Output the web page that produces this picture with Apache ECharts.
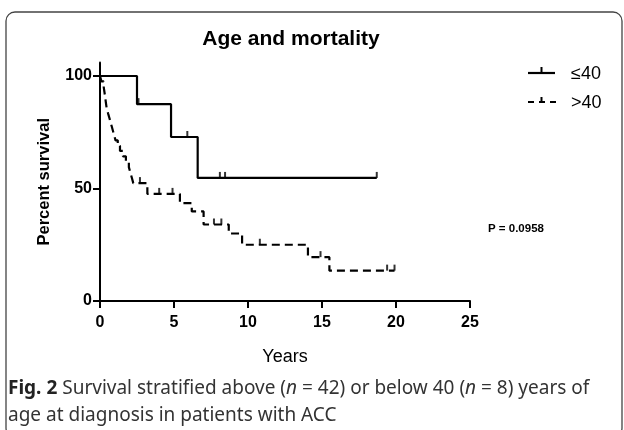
<!DOCTYPE html>
<html>
<head>
<meta charset="utf-8">
<script src="https://cdn.jsdelivr.net/npm/echarts@6/dist/echarts.min.js"></script>
<style>
html,body{margin:0;padding:0;background:#fff;}
#c{width:624px;height:430px;}
</style>
</head>
<body>
<div id="c"></div>
<script>
// ≤40 group (n = 8)
const youngTimes = [0, 2.5, 4.8, 6.6, 18.7];
const youngSurv = [100, 87.5, 72.9, 54.7, 54.7];
const youngCensorTimes = [2.6, 5.9, 8.1, 8.45, 18.7];
const youngCensorSurv = [87.5, 72.9, 54.7, 54.7, 54.7];

// >40 group (n = 42)
const oldTimes = [0, 0.1, 0.25, 0.3, 0.35, 0.4, 0.45, 0.55, 0.65, 0.75, 0.85, 0.95, 1.05, 1.2, 1.35, 1.55, 1.75, 1.95, 2.05, 2.15, 2.25, 3.2, 5.4, 6.2, 7.0, 8.7, 9.6, 14.05, 15.5, 19.9];
const oldSurv = [100, 97.6, 95.2, 92.9, 90.5, 88.1, 85.7, 83.3, 81.0, 78.6, 76.2, 73.8, 71.4, 69.0, 66.7, 64.3, 61.9, 59.5, 57.1, 54.8, 52.4, 47.6, 43.5, 39.8, 34.0, 30.0, 25.0, 19.5, 13.5, 13.5];
const oldCensorTimes = [2.7, 4.0, 4.9, 7.7, 8.2, 10.8, 14.9, 19.4, 19.9];
const oldCensorSurv = [52.4, 47.6, 47.6, 34.0, 34.0, 25.0, 19.5, 13.5, 13.5];

const xTicks = [0, 5, 10, 15, 20, 25];
const yTicks = [0, 50, 100];

const chartTitle = 'Age and mortality';
const xName = 'Years';
const yName = 'Percent survival';
const legendNames = ['\u226440', '>40'];
const pText = 'P = 0.0958';

const zip = (a, b) => a.map((v, i) => [v, b[i]]);

const chart = echarts.init(document.getElementById('c'), null, {renderer: 'canvas'});
const axisFont = {fontFamily: 'Liberation Sans, Arial, sans-serif', fontWeight: 'bold', fontSize: 16, color: '#000'};

chart.setOption({
  animation: false,
  backgroundColor: '#fff',
  title: {
    text: chartTitle, left: 286, top: 24, textAlign: 'center',
    textStyle: {fontFamily: 'Liberation Sans, Arial, sans-serif', fontWeight: 'bold', fontSize: 21, color: '#000'}
  },
  grid: {left: 100, width: 370, top: 62.5, height: 238.5},
  xAxis: {
    type: 'value', min: 0, max: 25, interval: 5,
    name: xName, nameLocation: 'middle', nameGap: 47,
    nameTextStyle: {fontFamily: 'Liberation Sans, Arial, sans-serif', fontSize: 18, color: '#000'},
    axisLine: {show: true, onZero: false, lineStyle: {color: '#000', width: 2}},
    axisTick: {show: true, length: 7, inside: false, lineStyle: {color: '#000', width: 2}, customValues: xTicks},
    axisLabel: Object.assign({margin: 14, customValues: xTicks}, axisFont),
    splitLine: {show: false}
  },
  yAxis: {
    type: 'value', min: 0, max: 106,
    name: yName, nameLocation: 'middle', nameGap: 47, nameRotate: 90,
    nameTextStyle: {fontFamily: 'Liberation Sans, Arial, sans-serif', fontWeight: 'bold', fontSize: 16.5, color: '#000'},
    axisLine: {show: true, onZero: false, lineStyle: {color: '#000', width: 2}},
    axisTick: {show: true, length: 7, lineStyle: {color: '#000', width: 2}, customValues: yTicks},
    axisLabel: Object.assign({margin: 8, customValues: yTicks}, axisFont),
    splitLine: {show: false}
  },
  series: [
    {
      name: legendNames[1], type: 'line', step: 'end', symbol: 'none',
      data: zip(oldTimes, oldSurv),
      lineStyle: {color: '#000', width: 2.2, type: [8, 5]}, z: 3
    },
    {
      name: legendNames[0], type: 'line', step: 'end', symbol: 'none',
      data: zip(youngTimes, youngSurv),
      lineStyle: {color: '#000', width: 2.2, type: 'solid'}, z: 4
    },
    {
      type: 'scatter', symbol: 'rect', symbolSize: [2, 6], symbolOffset: [0, -3],
      data: zip(youngCensorTimes, youngCensorSurv),
      itemStyle: {color: '#000'}, z: 5
    },
    {
      type: 'scatter', symbol: 'rect', symbolSize: [2, 6], symbolOffset: [0, -3],
      data: zip(oldCensorTimes, oldCensorSurv),
      itemStyle: {color: '#000'}, z: 5
    }
  ],
  graphic: [
    {type: 'rect', shape: {x: 6, y: 12, width: 616, height: 425, r: 9}, style: {fill: 'none', stroke: '#444', lineWidth: 1.3}, silent: true},
    // legend
    {type: 'line', shape: {x1: 528, y1: 73, x2: 555, y2: 73}, style: {stroke: '#000', lineWidth: 2.2}},
    {type: 'line', shape: {x1: 541.5, y1: 73, x2: 541.5, y2: 67}, style: {stroke: '#000', lineWidth: 2}},
    {type: 'text', x: 571, y: 74, style: {text: legendNames[0], font: '18px Liberation Sans, Arial, sans-serif', fill: '#000', verticalAlign: 'middle'}},
    {type: 'line', shape: {x1: 528, y1: 102, x2: 557, y2: 102}, style: {stroke: '#000', lineWidth: 2.2, lineDash: [6, 5]}},
    {type: 'line', shape: {x1: 541.5, y1: 102, x2: 541.5, y2: 97}, style: {stroke: '#000', lineWidth: 2}},
    {type: 'text', x: 571, y: 103, style: {text: legendNames[1], font: '18px Liberation Sans, Arial, sans-serif', fill: '#000', verticalAlign: 'middle'}},
    // p-value
    {type: 'text', x: 488, y: 229, style: {text: pText, font: 'bold 11.5px Liberation Sans, Arial, sans-serif', fill: '#000', verticalAlign: 'middle'}},
    // caption
    {type: 'text', x: 8, y: 389, style: {
      text: '{b|Fig. 2} Survival stratified above ({i|n} = 42) or below 40 ({i|n} = 8) years of',
      font: '19px Noto Sans, sans-serif', fill: '#333', verticalAlign: 'middle',
      rich: {
        b: {fontFamily: 'Noto Sans, sans-serif', fontWeight: 'bold', fontSize: 19, fill: '#222'},
        i: {fontFamily: 'Noto Sans, sans-serif', fontStyle: 'italic', fontSize: 19, fill: '#333'}
      }
    }},
    {type: 'text', x: 8, y: 416, style: {text: 'age at diagnosis in patients with ACC', font: '19px Noto Sans, sans-serif', fill: '#333', verticalAlign: 'middle'}}
  ]
});
</script>
</body>
</html>
